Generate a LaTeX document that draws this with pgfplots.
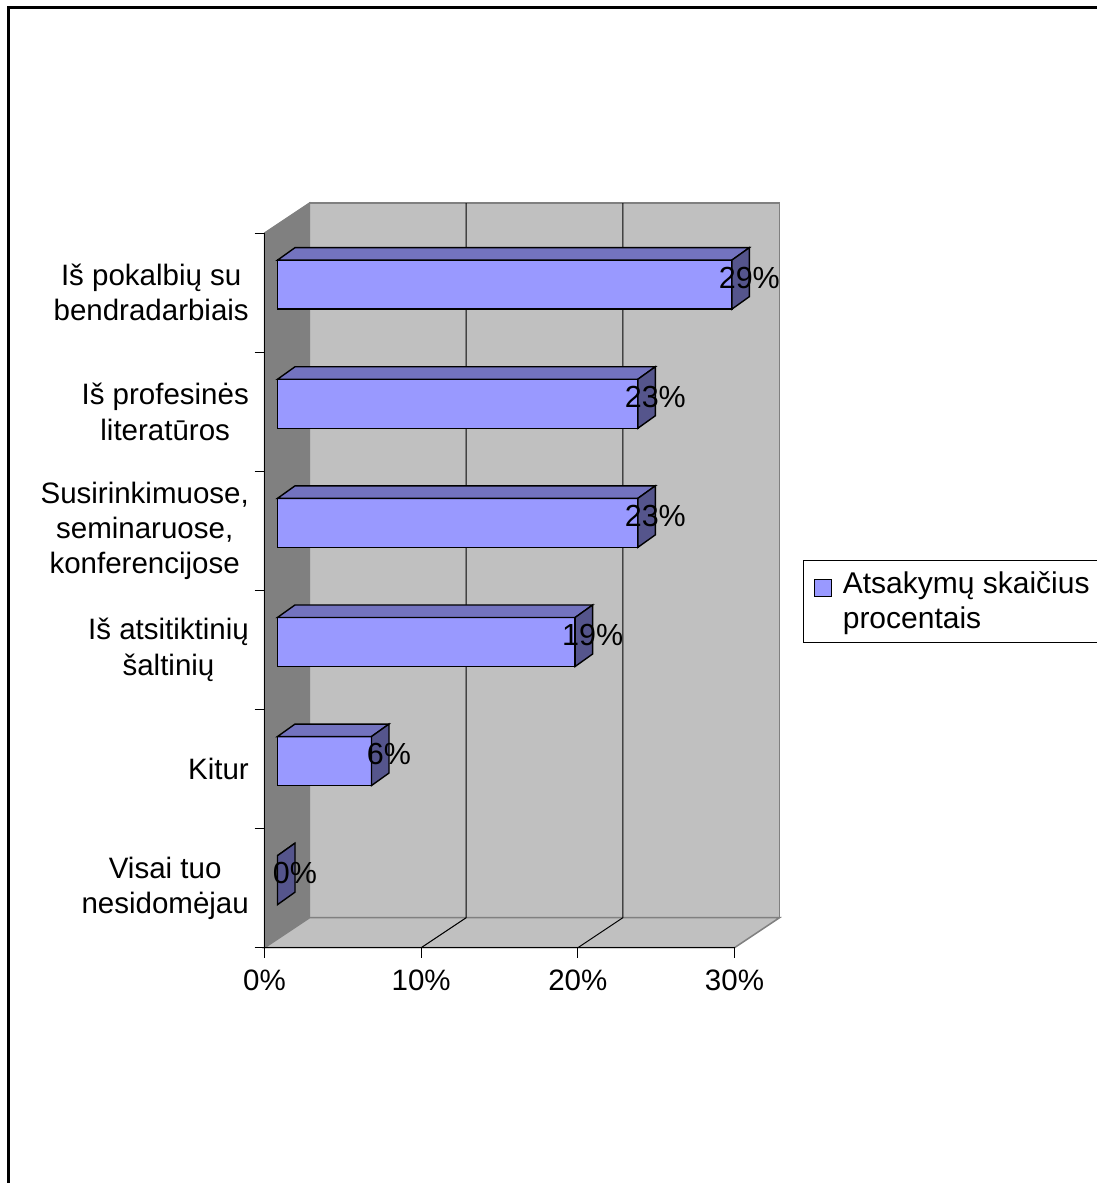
\documentclass[border=0pt]{standalone}
\usepackage{fontspec}
\setmainfont{Liberation Sans}
\usepackage{pgfplots}
\usepackage{pgfplotstable}
\pgfplotsset{compat=1.18}

\definecolor{barfront}{HTML}{9999FF}
\definecolor{bartop}{HTML}{7373BF}
\definecolor{barside}{HTML}{55558C}
\definecolor{wallside}{HTML}{808080}
\definecolor{wallback}{HTML}{C0C0C0}
\definecolor{walledge}{HTML}{808080}

% share of answers (percent) per category; pos = row centre on the y axis
\pgfplotstableread{
pos share
5.5 29
4.5 23
3.5 23
2.5 19
1.5 6
0.5 0
}\answers

% depth of the 3-D box and of the bars, in axis units
\def\frontx{0.83}\def\fronty{0.0672}
\def\deepx{1.117}\def\deepy{0.105}
\def\halfh{0.2057}

\newcommand{\labelfont}{\fontsize{29.5pt}{35.3pt}\selectfont}
\newcommand{\legendfont}{\fontsize{30pt}{36pt}\selectfont}
\newcommand{\valuefont}{\fontsize{30.5pt}{36pt}\selectfont}
\tikzset{barlabel/.style={font=\valuefont, anchor=center, inner sep=0pt}}

\pgfplotsset{
  every non boxed x axis/.append style={x axis line style={-}},
  every non boxed y axis/.append style={y axis line style={-}},
}

\begin{document}
\begin{tikzpicture}
\path[use as bounding box] (0,0) rectangle (1097pt,-1183pt);
\clip (0,0) rectangle (1097pt,-1183pt);
\draw[line width=2.6pt] (8.5pt,-1190pt) -- (8.5pt,-7.5pt) -- (1105pt,-7.5pt);
\begin{axis}[
  at={(264.5pt,-947.7pt)}, anchor=south west,
  x=15.667pt, y=119.1pt,
  xmin=0, xmax=30, ymin=0, ymax=6,
  clip=false, axis on top,
  axis x line=bottom, axis y line=left,
  axis line style={black, line width=1.2pt},
  tick align=outside,
  major tick length=0pt, minor tick length=9.8pt,
  xtick={0,10,20,30},
  xticklabels={0\%,10\%,20\%,30\%},
  minor xtick={0,10,20,30},
  ytick={0.5,1.5,2.5,3.5,4.5,5.5},
  yticklabels={{Visai tuo\\nesidomėjau},{Kitur},{Iš atsitiktinių\\šaltinių},
               {Susirinkimuose,\\seminaruose,\\konferencijose},
               {Iš profesinės\\literatūros},{Iš pokalbių su\\bendradarbiais}},
  minor ytick={0,1,2,3,4,5,6},
  tick style={black, line width=1pt},
  xticklabel style={anchor=base, yshift=-43pt, inner sep=0pt, font=\labelfont},
  yticklabel style={anchor=east, align=center, inner sep=0pt, xshift=-15.5pt, font=\labelfont},
  legend style={at={(1.1464,0.5425)}, anchor=north west, draw=black, line width=1pt,
    inner xsep=0pt, inner ysep=0pt, font=\legendfont, nodes={inner sep=0pt},
    column sep=0pt, row sep=9.7pt},
  legend cell align=left,
]
% walls and floor
\addplot[forget plot, fill=wallback, draw=walledge, line width=1.5pt]
  coordinates {(2.872,0.2519) (32.872,0.2519) (32.872,6.2519) (2.872,6.2519)} -- cycle;
\addplot[forget plot, fill=wallside, draw=walledge, line width=1.5pt]
  coordinates {(0,0) (2.872,0.2519) (2.872,6.2519) (0,6)} -- cycle;
\addplot[forget plot, fill=wallback, draw=walledge, line width=1.5pt]
  coordinates {(0,0) (30,0) (32.872,0.2519) (2.872,0.2519)} -- cycle;
% grid lines on floor and back wall
\addplot[forget plot, draw=black, line width=1pt]
  coordinates {(10,0) (12.872,0.2519) (12.872,6.2519)};
\addplot[forget plot, draw=black, line width=1pt]
  coordinates {(20,0) (22.872,0.2519) (22.872,6.2519)};

% one box per category: front, top and end faces, then the value label
\pgfplotsinvokeforeach{0,...,5}{
  \pgfplotstablegetelem{#1}{pos}\of\answers
  \let\catpos\pgfplotsretval
  \pgfplotstablegetelem{#1}{share}\of\answers
  \let\shareval\pgfplotsretval
  \pgfmathsetmacro\xa{\frontx}
  \pgfmathsetmacro\xb{\frontx+\shareval}
  \pgfmathsetmacro\xc{\xa+\deepx}
  \pgfmathsetmacro\xd{\xb+\deepx}
  \pgfmathsetmacro\ylo{\catpos+\fronty-\halfh}
  \pgfmathsetmacro\yhi{\catpos+\fronty+\halfh}
  \pgfmathsetmacro\ylob{\ylo+\deepy}
  \pgfmathsetmacro\yhib{\yhi+\deepy}
  \pgfmathsetmacro\ylab{\catpos+\fronty+0.056}
  \addplot[forget plot, fill=barfront, draw=black, line width=1.4pt]
    coordinates {(\xa,\ylo) (\xb,\ylo) (\xb,\yhi) (\xa,\yhi)} -- cycle;
  \addplot[forget plot, fill=bartop, draw=black, line width=1.4pt]
    coordinates {(\xa,\yhi) (\xb,\yhi) (\xd,\yhib) (\xc,\yhib)} -- cycle;
  \addplot[forget plot, fill=barside, draw=black, line width=1.4pt]
    coordinates {(\xb,\ylo) (\xd,\ylob) (\xd,\yhib) (\xb,\yhi)} -- cycle;
  \edef\barlabelcmd{\noexpand\node[barlabel] at (axis cs:\xd,\ylab) {\shareval\%};}
  \barlabelcmd
}

\addlegendimage{legend image code/.code={
  \path (0pt,-8.5pt) (38pt,8.5pt);
  \draw[fill=barfront, line width=1pt] (10pt,-18.5pt) rectangle (27.3pt,-1.5pt);}}
\addlegendentry{\makebox[280pt][l]{\raisebox{0pt}[33.3pt][0pt]{Atsakymų skaičius}}}
\addlegendimage{legend image code/.code={\path (0pt,0pt) (38pt,0pt);}}
\addlegendentry{\raisebox{12.3pt}[34.3pt][0pt]{procentais}}
\end{axis}
\end{tikzpicture}
\end{document}
